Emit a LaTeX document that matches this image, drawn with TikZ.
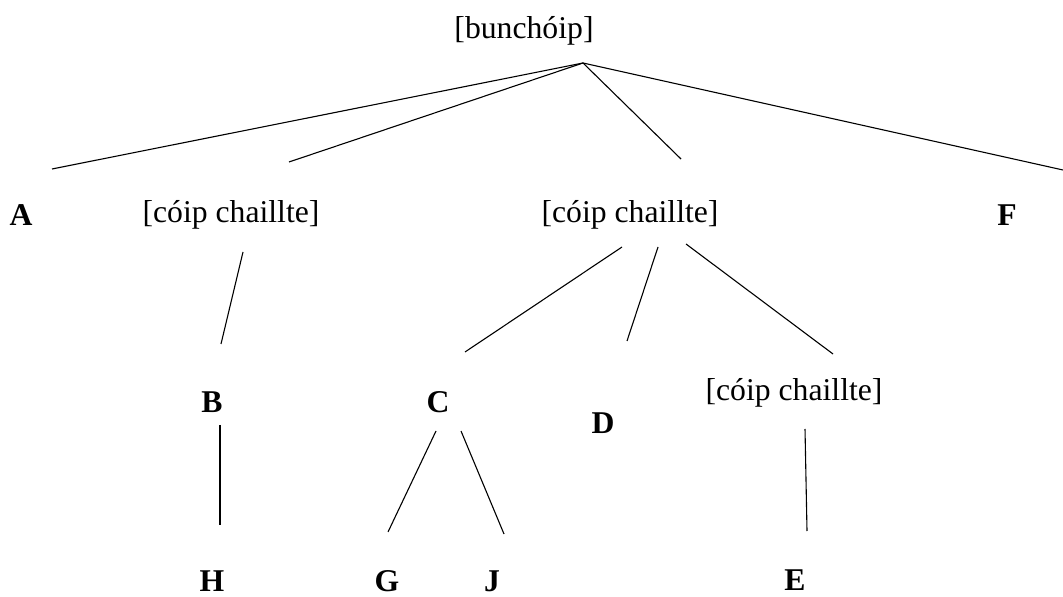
\documentclass[tikz,border=0pt]{standalone}
\usepackage{fontspec}
\setmainfont{Liberation Serif}
\usetikzlibrary{positioning}

\begin{document}
\begin{tikzpicture}[
    x=0.5pt, y=-0.5pt,
    phrase/.style={inner sep=0pt, font=\fontsize{15.85}{19}\selectfont},
    leaf/.style={phrase, font=\fontsize{15.85}{19}\selectfont\bfseries},
    edge/.style={line width=0.55pt}
]
\useasboundingbox (0,0) rectangle (1063,597);

% Top
\node[phrase] (root) at (524,31) {[bunchóip]};

% First level
\node[leaf] (A) at (21,215) {A};
\node[phrase] (cc1) at (231,215) {[cóip chaillte]};
\node[phrase] (cc2) at (630,215) {[cóip chaillte]};
\node[leaf] (F) at (1007,215) {F};

% Second level
\node[leaf] (B) at (212,402) {B};
\node[leaf] (C) at (438,402) {C};
\node[leaf] (D) at (603,423) {D};
\node[phrase] (cc3) at (794,393) {[cóip chaillte]};

% Bottom
\node[leaf] (H) at (212,581) {H};
\node[leaf] (G) at (387,581) {G};
\node[leaf] (J) at (492,581) {J};
\node[leaf] (E) at (795,580) {E};

% Edge ends
\coordinate (root-f) at (583,63);
\coordinate (A-t) at (52,169);
\coordinate (cc1-t) at (289,162);
\coordinate (cc2-t) at (681,159);
\coordinate (F-t) at (1063,170);
\coordinate (cc1-f) at (243,252);
\coordinate (B-t) at (221,344);
\coordinate (cc2-fc) at (622,247);
\coordinate (C-t) at (465,352);
\coordinate (cc2-fd) at (658,247);
\coordinate (D-t) at (627,341);
\coordinate (cc2-fe) at (686,244);
\coordinate (cc3-t) at (833,354);
\coordinate (B-f) at (220,425);
\coordinate (H-t) at (220,525);
\coordinate (C-fg) at (436,431);
\coordinate (G-t) at (388,532);
\coordinate (C-fj) at (461,431);
\coordinate (J-t) at (504,534);
\coordinate (cc3-f) at (805,429);
\coordinate (E-t) at (807,531);

% Edges
\foreach \a/\b in {root-f/A-t, root-f/cc1-t, root-f/cc2-t, root-f/F-t,
                   cc1-f/B-t, cc2-fc/C-t, cc2-fd/D-t, cc2-fe/cc3-t,
                   B-f/H-t, C-fg/G-t, C-fj/J-t, cc3-f/E-t}
    \draw[edge] (\a) -- (\b);
\end{tikzpicture}
\end{document}
